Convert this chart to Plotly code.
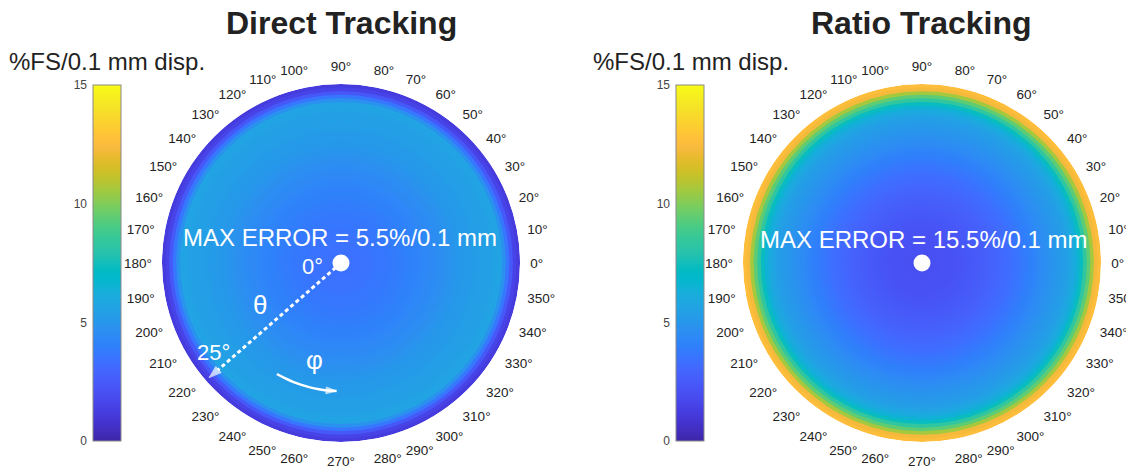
import plotly.graph_objects as go

# ---- data -------------------------------------------------------------
# ring outer edges, polar angle theta (deg), 0.5 deg rings from centre out
ring_edges = [0.5 * (i + 1) for i in range(50)]

direct_err = [3.4, 3.4, 3.4, 3.42, 3.44, 3.46, 3.48, 3.5, 3.53, 3.56,
              3.6, 3.64, 3.68, 3.72, 3.77, 3.82, 3.87, 3.92, 3.98, 4.04,
              4.1, 4.17, 4.24, 4.31, 4.38, 4.45, 4.52, 4.6, 4.68, 4.76,
              4.84, 4.92, 5.0, 5.07, 5.14, 5.2, 5.26, 5.32, 5.37, 5.42,
              5.45, 5.48, 5.5, 5.6, 5.6, 4.8, 3.6, 2.4, 1.5, 1.2]

ratio_err = [2.0, 2.0, 2.02, 2.04, 2.06, 2.08, 2.1, 2.13, 2.16, 2.2,
             2.24, 2.28, 2.33, 2.38, 2.44, 2.5, 2.57, 2.64, 2.72, 2.8,
             2.9, 3.0, 3.1, 3.2, 3.3, 3.4, 3.52, 3.64, 3.76, 3.9,
             4.04, 4.18, 4.32, 4.46, 4.6, 4.74, 4.88, 5.02, 5.16, 5.3,
             5.45, 5.7, 6.0, 6.5, 7.3, 8.3, 9.4, 10.6, 12.3, 12.6]

half_disc_centres = [90, 270]
cbar_ticks = [0, 5, 10, 15]

# annotation guide (decorations)
theta_arrow_phi = 221          # azimuth of the dashed theta arrow
phi_arc_r = 17.9
phi_arc_theta = [240, 244, 248, 252, 256, 260, 264, 268]

parula_rgb = [
    [0.2422, 0.1504, 0.6603], [0.2504, 0.1650, 0.7076], [0.2578, 0.1818, 0.7511],
    [0.2647, 0.1978, 0.7952], [0.2706, 0.2147, 0.8364], [0.2751, 0.2342, 0.8710],
    [0.2783, 0.2559, 0.8991], [0.2803, 0.2782, 0.9221], [0.2813, 0.3006, 0.9414],
    [0.2810, 0.3228, 0.9579], [0.2795, 0.3447, 0.9717], [0.2760, 0.3667, 0.9829],
    [0.2699, 0.3892, 0.9906], [0.2602, 0.4123, 0.9952], [0.2440, 0.4358, 0.9988],
    [0.2206, 0.4603, 0.9973], [0.1963, 0.4847, 0.9892], [0.1834, 0.5074, 0.9798],
    [0.1786, 0.5289, 0.9682], [0.1764, 0.5499, 0.9520], [0.1687, 0.5703, 0.9359],
    [0.1540, 0.5902, 0.9218], [0.1460, 0.6091, 0.9079], [0.1380, 0.6276, 0.8973],
    [0.1248, 0.6459, 0.8883], [0.1113, 0.6635, 0.8763], [0.0952, 0.6798, 0.8598],
    [0.0689, 0.6948, 0.8394], [0.0297, 0.7082, 0.8163], [0.0036, 0.7203, 0.7917],
    [0.0067, 0.7312, 0.7660], [0.0433, 0.7411, 0.7394], [0.0964, 0.7500, 0.7120],
    [0.1408, 0.7584, 0.6842], [0.1717, 0.7670, 0.6554], [0.1938, 0.7758, 0.6251],
    [0.2161, 0.7843, 0.5923], [0.2470, 0.7918, 0.5567], [0.2906, 0.7973, 0.5188],
    [0.3406, 0.8008, 0.4789], [0.3909, 0.8029, 0.4354], [0.4456, 0.8024, 0.3909],
    [0.5044, 0.7993, 0.3480], [0.5616, 0.7942, 0.3045], [0.6174, 0.7876, 0.2612],
    [0.6720, 0.7793, 0.2227], [0.7242, 0.7698, 0.1910], [0.7738, 0.7598, 0.1646],
    [0.8203, 0.7498, 0.1535], [0.8634, 0.7406, 0.1596], [0.9035, 0.7330, 0.1774],
    [0.9393, 0.7288, 0.2100], [0.9728, 0.7298, 0.2394], [0.9956, 0.7434, 0.2371],
    [0.9970, 0.7659, 0.2199], [0.9952, 0.7893, 0.2028], [0.9892, 0.8136, 0.1885],
    [0.9786, 0.8386, 0.1766], [0.9676, 0.8639, 0.1643], [0.9610, 0.8890, 0.1537],
    [0.9597, 0.9135, 0.1423], [0.9628, 0.9373, 0.1265], [0.9691, 0.9606, 0.1064],
    [0.9769, 0.9839, 0.0805]]
n = len(parula_rgb)
parula = [[i / (n - 1), "rgb(%d,%d,%d)" % tuple(round(c * 255) for c in rgb)]
          for i, rgb in enumerate(parula_rgb)]

FONT = "Liberation Sans, Arial, sans-serif"
W, H = 1126, 468

fig = go.Figure()


def add_disc(values, subplot, cbar_x):
    # outermost ring first, inner discs painted on top
    rs, ths, cs = [], [], []
    for edge, val in sorted(zip(ring_edges, values), key=lambda p: -p[0]):
        for tc in half_disc_centres:
            rs.append(edge)
            ths.append(tc)
            cs.append(val)
    fig.add_trace(go.Barpolar(
        r=rs, theta=ths, width=[181] * len(rs), subplot=subplot,
        marker=dict(color=cs, colorscale=parula, cmin=0, cmax=15,
                    line=dict(width=0), showscale=True,
                    colorbar=dict(x=cbar_x, xanchor="left", xpad=0, ypad=0,
                                  y=27 / H, yanchor="bottom", lenmode="pixels",
                                  len=356, thickness=28,
                                  outlinecolor="#8a8a8a", outlinewidth=1,
                                  showticklabels=False, ticks="")),
        hoverinfo="skip", showlegend=False))
    # centre dot
    fig.add_trace(go.Scatterpolar(r=[0], theta=[0], mode="markers", subplot=subplot,
                                  marker=dict(color="white", size=17),
                                  hoverinfo="skip", showlegend=False))


add_disc(direct_err, "polar", 93 / W)
add_disc(ratio_err, "polar2", 676 / W)

# dashed theta arrow (left plot)
fig.add_trace(go.Scatterpolar(
    r=[0, ring_edges[-1] - 0.6], theta=[theta_arrow_phi, theta_arrow_phi],
    mode="lines+markers", subplot="polar",
    line=dict(color="white", width=3, dash="4px,3px"),
    marker=dict(symbol="arrow", size=[0, 13], color="white", angleref="previous"),
    hoverinfo="skip", showlegend=False))
# phi arc arrow (left plot)
fig.add_trace(go.Scatterpolar(
    r=[phi_arc_r] * len(phi_arc_theta), theta=phi_arc_theta,
    mode="lines+markers", subplot="polar",
    line=dict(color="white", width=2.5, shape="spline"),
    marker=dict(symbol="arrow", size=[0] * (len(phi_arc_theta) - 1) + [11],
                color="white", angleref="previous"),
    hoverinfo="skip", showlegend=False))


def polar_layout(x0, x1):
    return dict(
        domain=dict(x=[x0 / W, x1 / W], y=[(H - 442) / H, (H - 84) / H]),
        bgcolor="rgba(0,0,0,0)", barmode="overlay",
        radialaxis=dict(visible=False, range=[0, 25]),
        angularaxis=dict(direction="counterclockwise", rotation=0, dtick=10,
                         showgrid=False, showline=False, ticks="outside",
                         ticklen=7, tickcolor="rgba(0,0,0,0)",
                         tickfont=dict(family=FONT, size=13.5, color="#222222")))


layout = dict(
    width=W, height=H, paper_bgcolor="white", plot_bgcolor="rgba(0,0,0,0)",
    margin=dict(l=0, r=0, t=0, b=0, autoexpand=False),
    polar=polar_layout(162, 520),
    polar2=polar_layout(743, 1101),
    font=dict(family=FONT),
)

# axes that carry the colour-bar tick labels (left side, like MATLAB)
for suffix, x0 in (("", 93), ("2", 676)):
    layout["xaxis" + suffix] = dict(domain=[x0 / W, (x0 + 28) / W], visible=False,
                                    range=[0, 1], fixedrange=True)
    layout["yaxis" + suffix] = dict(domain=[27 / H, 383 / H], range=[0, 15],
                                    anchor="x" + suffix, side="left",
                                    tickvals=cbar_ticks, ticks="inside", ticklen=3,
                                    tickcolor="#777", showgrid=False, zeroline=False,
                                    showline=False, ticklabelstandoff=5,
                                    tickfont=dict(family=FONT, size=12, color="#444"),
                                    fixedrange=True)
fig.update_layout(**layout)
# dummy traces so the helper axes are drawn
fig.add_trace(go.Scatter(x=[0], y=[0], mode="markers", marker=dict(opacity=0),
                         xaxis="x", yaxis="y", showlegend=False, hoverinfo="skip"))
fig.add_trace(go.Scatter(x=[0], y=[0], mode="markers", marker=dict(opacity=0),
                         xaxis="x2", yaxis="y2", showlegend=False, hoverinfo="skip"))


def ann(text, x, y, size, color="white", bold=False):
    fig.add_annotation(text=("<b>%s</b>" % text) if bold else text,
                       x=x / W, y=1 - y / H, xref="paper", yref="paper",
                       xanchor="center", yanchor="middle", showarrow=False,
                       font=dict(family=FONT, size=size, color=color))


ann("Direct Tracking", 341, 23, 32, "#222", True)
ann("Ratio Tracking", 921, 23, 32, "#222", True)
ann("%FS/0.1 mm disp.", 107, 62, 24, "#222")
ann("%FS/0.1 mm disp.", 691, 62, 24, "#222")
ann("MAX ERROR = 5.5%/0.1 mm", 340, 237, 24)
ann("MAX ERROR = 15.5%/0.1 mm", 923, 240, 24)
ann("0°", 312, 266, 22)
ann("25°", 213, 352, 22)
ann("θ", 260, 305, 26)
ann("φ", 314, 360, 26)

fig.write_html("out.html", config={"displayModeBar": False},
               post_script="document.body.style.margin='0';")
